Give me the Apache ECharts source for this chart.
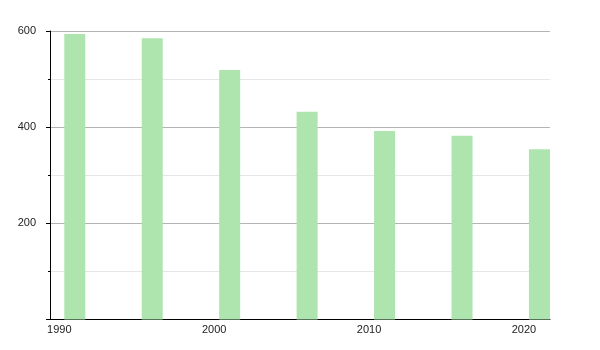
<!DOCTYPE html>
<html>
<head>
<meta charset="utf-8">
<script src="https://cdn.jsdelivr.net/npm/echarts@6/dist/echarts.min.js"></script>
<style>html,body{margin:0;padding:0;background:#fff}#c{width:600px;height:350px}</style>
</head>
<body>
<div id="c"></div>
<script>
const years = [1991, 1996, 2001, 2006, 2011, 2016, 2021];
const values = [594, 585, 519, 432, 392, 382, 354];
const xTickLabels = [1990, 2000, 2010, 2020];
const yTicks = [200, 400, 600];

const chart = echarts.init(document.getElementById('c'), null, {renderer: 'canvas'});
chart.setOption({
  animation: false,
  grid: {left: 50, right: 50, top: 31, bottom: 30.5, containLabel: false},
  xAxis: {
    type: 'value',
    min: 1989.4,
    max: 2021.68,
    axisLine: {show: true, lineStyle: {color: '#000', width: 1}},
    axisTick: {show: false},
    splitLine: {show: false},
    axisLabel: {
      customValues: xTickLabels,
      color: '#222', fontSize: 11, fontFamily: 'Liberation Sans, Arial, sans-serif', margin: 5,
      formatter: v => String(v)
    }
  },
  yAxis: {
    type: 'value',
    min: 0, max: 600, interval: 200,
    axisLine: {show: true, lineStyle: {color: '#000', width: 1}},
    axisTick: {show: true, length: 4, lineStyle: {color: '#000'}},
    minorTick: {show: true, splitNumber: 2, length: 2, lineStyle: {color: '#000'}},
    splitLine: {show: true, lineStyle: {color: '#b4b4b4', width: 1}},
    minorSplitLine: {show: true, lineStyle: {color: '#e6e6e6', width: 1}},
    axisLabel: {
      color: '#222', fontSize: 11, fontFamily: 'Liberation Sans, Arial, sans-serif', margin: 14,
      formatter: v => (v === 0 ? '' : String(v))
    }
  },
  series: [{
    type: 'bar',
    data: years.map((y, i) => [y, values[i]]),
    barWidth: 21,
    itemStyle: {color: '#aee5ae'},
    clip: true
  }]
});
</script>
</body>
</html>
